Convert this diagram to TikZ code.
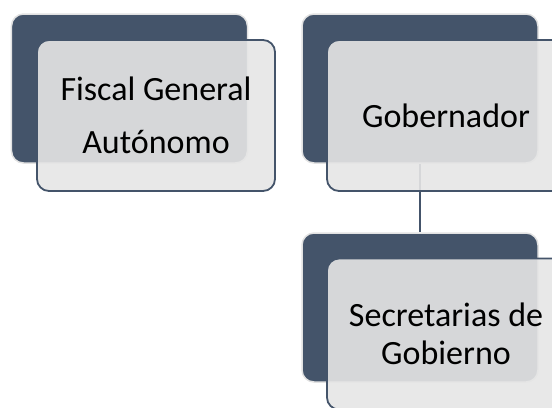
\documentclass[tikz,border=0pt]{standalone}
\usepackage{fontspec}
\setmainfont{Carlito}
\definecolor{slate}{HTML}{44546A}
\definecolor{paper}{HTML}{E6E6E6}
\definecolor{rim}{HTML}{E2E2E2}
\tikzset{
  backbox/.style={draw=rim, line width=1.5bp, fill=slate, rounded corners=12bp,
    minimum width=236bp, minimum height=149bp, inner sep=0pt},
  frontbox/.style={draw=slate, line width=1.8bp, fill=paper, fill opacity=0.9,
    text opacity=1, rounded corners=12bp, minimum width=238bp, minimum height=151bp,
    inner sep=0pt, align=center, font=\fontsize{34bp}{38bp}\selectfont},
}
\begin{document}
\begin{tikzpicture}[x=1bp,y=-1bp]
\clip (0,0) rectangle (552,407);
% dark boxes behind
\node[backbox] (fiscalback) at (129.5,88.5) {};
\node[backbox] (gobback) at (420,88.5) {};
\node[backbox] (secback) at (420,307.5) {};
\draw[slate, line width=2bp] (gobback.south) -- (secback.north); % runs under the light boxes
% light boxes with the texts
\node[frontbox] (fiscal) at (156,115.5) {Fiscal General\\[15bp]Autónomo};
\node[frontbox] (gob) at (446,115.5) {Gobernador};
\node[frontbox] (sec) at (446,334) {Secretarias de\\Gobierno};
\end{tikzpicture}
\end{document}
